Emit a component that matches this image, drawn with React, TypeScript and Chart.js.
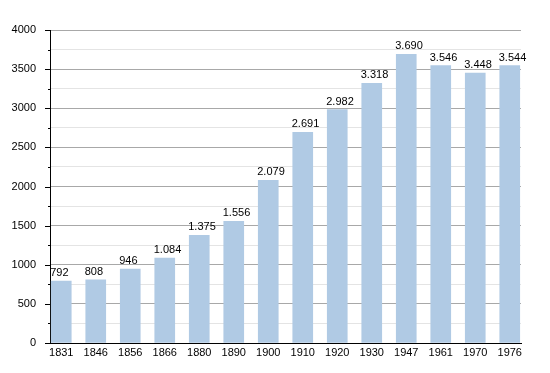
import React, { useEffect, useRef } from "react";
import { Chart, registerables } from "chart.js";

Chart.register(...registerables);

const years = ["1831", "1846", "1856", "1866", "1880", "1890", "1900", "1910", "1920", "1930", "1947", "1961", "1970", "1976"];
const population = [792, 808, 946, 1084, 1375, 1556, 2079, 2691, 2982, 3318, 3690, 3546, 3448, 3544];
const valueLabels = ["792", "808", "946", "1.084", "1.375", "1.556", "2.079", "2.691", "2.982", "3.318", "3.690", "3.546", "3.448", "3.544"];

const FONT = "'Liberation Sans', Arial, sans-serif";

const extrasPlugin = {
  id: "extras",
  afterDraw(chart: any) {
    const ctx = chart.ctx;
    const y = chart.scales.y;
    const area = chart.chartArea;
    ctx.save();
    ctx.strokeStyle = "#000";
    ctx.lineWidth = 1;
    for (let v = 0; v <= 4000; v += 250) {
      const py = Math.round(y.getPixelForValue(v)) + 0.5;
      const len = v % 500 === 0 ? 5 : 2;
      ctx.beginPath();
      ctx.moveTo(area.left - len, py);
      ctx.lineTo(area.left, py);
      ctx.stroke();
    }
    const meta = chart.getDatasetMeta(0);
    ctx.fillStyle = "#000";
    ctx.font = `11px ${FONT}`;
    ctx.textAlign = "left";
    ctx.textBaseline = "alphabetic";
    meta.data.forEach((bar: any, i: number) => {
      const left = bar.x - bar.width / 2 - 1;
      ctx.fillText(valueLabels[i], left, bar.y - 5);
    });
    ctx.restore();
  },
};

export default function App() {
  const ref = useRef<HTMLCanvasElement | null>(null);
  useEffect(() => {
    document.body.style.margin = "0";
    const chart = new Chart(ref.current as HTMLCanvasElement, {
      type: "bar",
      data: {
        datasets: [
          {
            data: population.map((v, i) => ({ x: i, y: v })),
            backgroundColor: "#b0cae4",
            borderWidth: 0,
            barThickness: 20,
          },
        ],
      },
      options: {
        responsive: false,
        animation: false,
        layout: { padding: { top: 30, right: 29, left: 0, bottom: 0 } },
        plugins: { legend: { display: false }, tooltip: { enabled: false } },
        scales: {
          x: {
            type: "linear",
            offset: false,
            min: -0.326,
            max: 13.326,
            afterBuildTicks: (scale: any) => {
              scale.ticks = years.map((_, i) => ({ value: i }));
            },
            afterFit: (scale: any) => {
              scale.height = 30;
            },
            grid: { display: false, drawTicks: false },
            border: { display: true, color: "#000", width: 1 },
            ticks: {
              autoSkip: false,
              maxRotation: 0,
              padding: 3,
              color: "#000",
              font: { family: FONT, size: 11 },
              callback: (v: any) => years[v] ?? "",
            },
          },
          y: {
            min: 0,
            max: 4000,
            afterFit: (scale: any) => {
              scale.width = 50;
            },
            grid: {
              drawTicks: false,
              color: (c: any) => (c.tick && c.tick.value % 500 === 0 ? "#a8a8a8" : "#e4e4e4"),
            },
            border: { display: true, color: "#000", width: 1 },
            ticks: {
              stepSize: 250,
              autoSkip: false,
              padding: 14,
              color: "#000",
              font: { family: FONT, size: 11 },
              callback: (v: any) => (v % 500 === 0 ? String(v) : ""),
            },
          },
        },
      },
      plugins: [extrasPlugin],
    } as any);
    return () => chart.destroy();
  }, []);
  return (
    <div style={{ position: "absolute", left: 0, top: 0, width: 550, height: 373 }}>
      <canvas ref={ref} width={550} height={373} />
    </div>
  );
}
